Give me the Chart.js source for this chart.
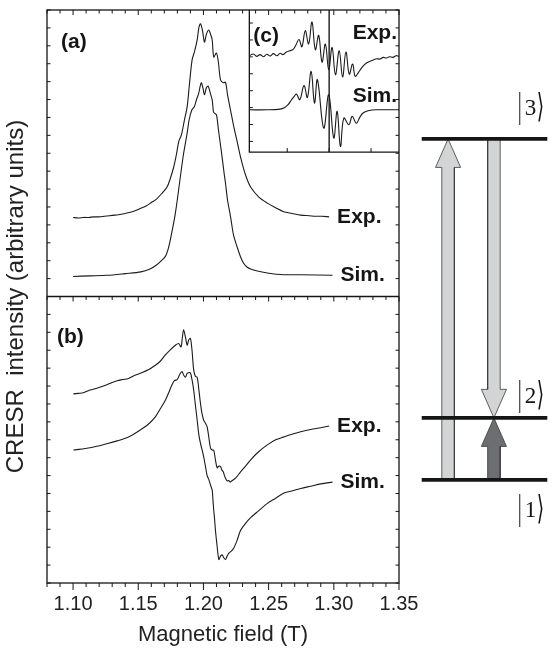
<!DOCTYPE html>
<html><head><meta charset="utf-8">
<script src="https://cdn.jsdelivr.net/npm/chart.js@4.4.1/dist/chart.umd.min.js"></script>
<style>
html,body{margin:0;padding:0;background:#fff;}
#wrap{position:relative;width:554px;height:648px;overflow:hidden;background:#fff;}
#main{position:absolute;left:0;top:0;}
#levels{position:absolute;left:400px;top:80px;}
</style></head><body>
<div id="wrap"><canvas id="main" width="554" height="648"></canvas><canvas id="levels" width="154" height="460"></canvas></div>
<script>
// ---------------- data ----------------
// field axis (T)
const xMajorTicks = [1.10, 1.15, 1.20, 1.25, 1.30, 1.35];
// panel (a): absorption-like CRESR signal (arbitrary units, upper half of the frame)
const expA = [[1.100,6.38],[1.104,6.37],[1.108,6.38],[1.112,6.38],[1.116,6.39],[1.120,6.39],[1.124,6.40],[1.128,6.41],[1.132,6.42],[1.136,6.43],[1.140,6.45],[1.144,6.47],[1.148,6.50],[1.152,6.54],[1.156,6.58],[1.160,6.64],[1.164,6.70],[1.1685,6.81],[1.1721,6.91],[1.1746,7.06],[1.1772,7.26],[1.1792,7.47],[1.1810,7.70],[1.1831,7.82],[1.1854,8.08],[1.1875,8.31],[1.1892,8.69],[1.1913,9.13],[1.1931,9.27],[1.1952,9.48],[1.1965,9.69],[1.1977,9.76],[1.1992,9.65],[1.2008,9.44],[1.2023,9.58],[1.2041,9.65],[1.2054,9.58],[1.2067,9.48],[1.2079,9.18],[1.2100,9.25],[1.2115,9.08],[1.2131,8.78],[1.2152,8.73],[1.2169,8.74],[1.2185,8.52],[1.2208,8.25],[1.2233,7.96],[1.2259,7.70],[1.2285,7.43],[1.2323,7.12],[1.2362,6.91],[1.2423,6.74],[1.2490,6.63],[1.2554,6.55],[1.2615,6.48],[1.2680,6.45],[1.2746,6.42],[1.2810,6.41],[1.2862,6.40],[1.2910,6.40],[1.2964,6.39]];
const simA = [[1.100,5.35],[1.113,5.36],[1.126,5.37],[1.140,5.40],[1.152,5.43],[1.159,5.48],[1.164,5.55],[1.168,5.63],[1.1708,5.70],[1.1727,5.81],[1.1746,5.99],[1.1785,6.46],[1.1823,7.09],[1.1846,7.47],[1.1875,7.85],[1.189,8.08],[1.191,8.25],[1.193,8.31],[1.1946,8.43],[1.1964,8.55],[1.1977,8.69],[1.1985,8.73],[1.1996,8.64],[1.2008,8.52],[1.2022,8.64],[1.2036,8.67],[1.2050,8.57],[1.2067,8.43],[1.2077,8.22],[1.2085,8.20],[1.2100,8.17],[1.2115,7.91],[1.2131,7.64],[1.2146,7.38],[1.2158,7.16],[1.2169,6.98],[1.2185,6.68],[1.2208,6.39],[1.2231,6.07],[1.2259,5.86],[1.2285,5.69],[1.2308,5.58],[1.2336,5.51],[1.2362,5.48],[1.2423,5.44],[1.2490,5.41],[1.2615,5.38],[1.2746,5.38],[1.2990,5.37]];
// panel (b): derivative-like CRESR signal (lower half of the frame)
const expB = [[1.1002,3.30],[1.1040,3.31],[1.1079,3.32],[1.1120,3.36],[1.1169,3.39],[1.1210,3.42],[1.1259,3.46],[1.1300,3.50],[1.1338,3.53],[1.1380,3.55],[1.1425,3.57],[1.1470,3.62],[1.1515,3.66],[1.1577,3.72],[1.1631,3.80],[1.1669,3.87],[1.1708,3.98],[1.1746,4.07],[1.1785,4.15],[1.1810,4.18],[1.1828,4.12],[1.1838,4.28],[1.1848,4.42],[1.1862,4.29],[1.1875,4.15],[1.1887,4.24],[1.1900,4.27],[1.1912,4.07],[1.1925,3.72],[1.1938,3.61],[1.1952,3.59],[1.1965,3.37],[1.1977,3.14],[1.1988,2.97],[1.2002,2.84],[1.2015,2.79],[1.2028,2.73],[1.2042,2.53],[1.2054,2.36],[1.2067,2.32],[1.2079,2.32],[1.2092,2.15],[1.2105,2.01],[1.2118,2.04],[1.2131,2.03],[1.2142,1.97],[1.2152,1.94],[1.2162,1.87],[1.2169,1.83],[1.2182,1.78],[1.2195,1.79],[1.2204,1.76],[1.2221,1.79],[1.2246,1.83],[1.2285,1.94],[1.2323,2.04],[1.2362,2.15],[1.2423,2.29],[1.2490,2.41],[1.2554,2.50],[1.2618,2.55],[1.2685,2.60],[1.2746,2.64],[1.2823,2.68],[1.2900,2.71],[1.2964,2.74]];
const simB = [[1.1002,2.32],[1.1131,2.36],[1.1259,2.43],[1.1338,2.48],[1.1425,2.55],[1.1515,2.67],[1.1577,2.77],[1.1631,2.90],[1.1669,3.04],[1.1708,3.19],[1.1735,3.33],[1.1759,3.46],[1.1777,3.53],[1.1798,3.55],[1.1812,3.61],[1.1823,3.66],[1.1836,3.69],[1.1848,3.63],[1.1862,3.59],[1.1875,3.66],[1.1887,3.67],[1.1900,3.67],[1.1913,3.54],[1.1925,3.37],[1.1938,3.11],[1.1952,2.84],[1.1965,2.58],[1.1977,2.44],[1.1990,2.32],[1.2002,2.20],[1.2015,2.04],[1.2028,1.88],[1.2042,1.80],[1.2054,1.71],[1.2067,1.62],[1.2073,1.45],[1.2079,1.27],[1.2086,1.10],[1.2092,0.92],[1.2104,0.66],[1.2118,0.41],[1.2131,0.47],[1.2144,0.49],[1.2156,0.44],[1.2169,0.41],[1.2182,0.47],[1.2195,0.52],[1.2215,0.56],[1.2233,0.61],[1.2259,0.75],[1.2285,0.92],[1.2323,1.04],[1.2362,1.14],[1.2423,1.26],[1.2490,1.39],[1.2554,1.48],[1.2618,1.57],[1.2685,1.61],[1.2746,1.65],[1.2823,1.69],[1.2900,1.73],[1.2990,1.76]];
// inset (c): zoom on the hyperfine structure (inset units)
const expC = [[-1.905,5.07],[-1.81,5.17],[-1.73,5.03],[-1.65,5.13],[-1.57,5.01],[-1.49,5.15],[-1.41,5.05],[-1.33,5.19],[-1.25,5.07],[-1.17,5.21],[-1.10,5.13],[-1.02,5.29],[-0.94,5.36],[-0.86,5.44],[-0.79,5.72],[-0.72,6.02],[-0.65,5.60],[-0.57,6.55],[-0.49,5.76],[-0.41,7.06],[-0.33,5.42],[-0.25,6.27],[-0.17,4.69],[-0.09,5.76],[-0.01,4.24],[0.07,5.56],[0.15,3.94],[0.24,5.36],[0.32,3.81],[0.40,5.29],[0.48,3.98],[0.56,4.58],[0.62,3.85],[0.69,4.04],[0.77,4.34],[0.89,4.64],[1.01,4.77],[1.13,4.89],[1.21,4.87],[1.29,4.97],[1.37,4.93],[1.44,5.01],[1.52,4.97],[1.60,5.07],[1.667,5.03]];
const simC = [[-1.905,1.87],[-1.49,1.87],[-1.17,1.91],[-1.06,2.01],[-0.98,2.17],[-0.90,2.45],[-0.83,2.68],[-0.78,2.80],[-0.70,2.47],[-0.60,3.31],[-0.52,2.60],[-0.43,4.14],[-0.35,2.27],[-0.28,3.65],[-0.13,0.79],[-0.01,2.76],[0.11,0.20],[0.19,1.78],[0.27,-0.30],[0.35,1.38],[0.47,0.99],[0.55,1.48],[0.65,1.08],[0.73,1.42],[0.81,1.68],[0.93,1.81],[1.13,1.87],[1.667,1.87]];
const insetMarker = [0];
const insetXTicks = [-1, 0, 1];
const insetYTicks = [0, 1, 2, 3, 4, 5, 6, 7];
// energy-level scheme
const levelEnergy = [0, 1, 5.5];       // |1>, |2>, |3>
const levelKets = ['1', '2', '3'];
const transFrom = [1, 3, 1];
const transTo   = [3, 2, 2];

// ---------------- layout / style ----------------
const FONT = '"Liberation Sans", Arial, Helvetica, sans-serif';
const INK = '#151515';
const X_MIN = 1.08, X_MAX = 1.35, X_MINOR = 0.01;
const Y_MIN = 0, Y_MAX = 10, PANEL_SPLIT = 5, Y_TICK = 0.3125;
const insetX = [-1.905, 1.667], insetY = [-0.63, 7.77];
const insetBox = {x0: 1.2352, x1: 1.35, y0: 7.52, y1: 10};
const kx = (insetX[1] - insetX[0]) / (insetBox.x1 - insetBox.x0);
const ky = (insetY[1] - insetY[0]) / (insetBox.y1 - insetBox.y0);
const x2min = insetX[0] - (insetBox.x0 - X_MIN) * kx;
const x2max = insetX[1] + (X_MAX - insetBox.x1) * kx;
const y2min = insetY[0] - (insetBox.y0 - Y_MIN) * ky;
const y2max = insetY[1] + (Y_MAX - insetBox.y1) * ky;

const curve = (data, xid, yid, tension) => ({
  data: data.map(([x, y]) => ({x, y})), xAxisID: xid, yAxisID: yid,
  borderColor: '#1b1b1b', borderWidth: 1.1, pointRadius: 0, fill: false,
  tension: tension
});

const framePlugin = {
  id: 'framePlugin',
  afterDatasetsDraw(chart) {
    const {ctx, chartArea: a, scales: {x, y, x2, y2}} = chart;
    ctx.save();
    ctx.strokeStyle = INK;
    const seg = (x1, y1, x3, y3) => { ctx.beginPath(); ctx.moveTo(x1, y1); ctx.lineTo(x3, y3); ctx.stroke(); };
    ctx.lineWidth = 1.3;
    ctx.strokeRect(a.left, a.top, a.right - a.left, a.bottom - a.top);
    const yd = y.getPixelForValue(PANEL_SPLIT);
    seg(a.left, yd, a.right, yd);
    ctx.lineWidth = 1;
    const nx = Math.round((X_MAX - X_MIN) / X_MINOR);
    for (let i = 0; i <= nx; i++) {
      const v = X_MIN + i * X_MINOR;
      const major = Math.abs(v * 20 - Math.round(v * 20)) < 1e-6;
      const p = x.getPixelForValue(v);
      seg(p, a.top, p, a.top + (major ? 5 : 3.5));
      seg(p, yd, p, yd + (major ? 5 : 3.5));
      seg(p, a.bottom, p, a.bottom + (major ? 7 : 4));
    }
    const ny = Math.round((Y_MAX - Y_MIN) / Y_TICK);
    for (let i = 0; i <= ny; i++) {
      const p = y.getPixelForValue(Y_MIN + i * Y_TICK);
      seg(a.left, p, a.left + 3.5, p);
      seg(a.right, p, a.right - 3.5, p);
    }
    // inset frame
    const ix0 = x2.getPixelForValue(insetX[0]);
    const iy0 = y2.getPixelForValue(insetY[0]);
    ctx.lineWidth = 1.3;
    ctx.beginPath(); ctx.moveTo(ix0, a.top); ctx.lineTo(ix0, iy0); ctx.lineTo(a.right, iy0); ctx.stroke();
    ctx.lineWidth = 1;
    insetXTicks.forEach(v => { const p = x2.getPixelForValue(v); seg(p, iy0, p, iy0 - 4); });
    insetYTicks.forEach(v => { const p = y2.getPixelForValue(v); seg(ix0, p, ix0 + 3.5, p); });
    // labels
    ctx.fillStyle = INK;
    ctx.font = `bold 21px ${FONT}`;
    ctx.textBaseline = 'middle';
    ctx.textAlign = 'left';
    ctx.fillText('(a)', a.left + 14, a.top + 32);
    ctx.fillText('(b)', a.left + 10, yd + 41);
    ctx.fillText('(c)', ix0 + 4, a.top + 26);
    [[expA, 'Exp.'], [simA, 'Sim.'], [expB, 'Exp.'], [simB, 'Sim.']].forEach(([d, t]) => {
      const last = d[d.length - 1];
      ctx.fillText(t, x.getPixelForValue(last[0]) + 8, y.getPixelForValue(last[1]));
    });
    ctx.textAlign = 'right';
    ctx.fillText('Exp.', a.right - 2, y2.getPixelForValue(6.41));
    ctx.fillText('Sim.', a.right - 2, y2.getPixelForValue(2.68));
    ctx.restore();
  }
};

new Chart(document.getElementById('main'), {
  type: 'line',
  data: {
    datasets: [
      curve(expA, 'x', 'y', 0.3), curve(simA, 'x', 'y', 0.3), curve(expB, 'x', 'y', 0.3), curve(simB, 'x', 'y', 0.3),
      curve(expC, 'x2', 'y2', 0.4), curve(simC, 'x2', 'y2', 0.4),
      Object.assign(curve([[insetMarker[0], insetY[0]], [insetMarker[0], insetY[1]]], 'x2', 'y2', 0), {borderWidth: 1.4})
    ]
  },
  options: {
    responsive: false, animation: false, devicePixelRatio: 1,
    layout: {padding: {top: 10, right: 155, left: 0, bottom: 0}},
    plugins: {legend: {display: false}, tooltip: {enabled: false}},
    scales: {
      x: {
        type: 'linear', min: X_MIN, max: X_MAX, position: 'bottom',
        grid: {display: false, drawTicks: false}, border: {display: false},
        afterBuildTicks: s => { s.ticks = xMajorTicks.map(v => ({value: v})); },
        ticks: {autoSkip: false, maxRotation: 0, padding: 9, color: '#222',
                font: {family: FONT, size: 20}, callback: v => Number(v).toFixed(2)},
        title: {display: true, text: 'Magnetic field (T)', color: '#222',
                font: {family: FONT, size: 22}, padding: {top: 0, bottom: 0}},
        afterFit: s => { s.height = 65; }
      },
      y: {
        type: 'linear', min: Y_MIN, max: Y_MAX, position: 'left',
        grid: {display: false, drawTicks: false}, border: {display: false},
        ticks: {display: false},
        title: {display: true, text: 'CRESR  intensity (arbitrary units)', color: '#222',
                font: {family: FONT, size: 24}, padding: {top: 2, bottom: 0}},
        afterFit: s => { s.width = 47; }
      },
      x2: {type: 'linear', min: x2min, max: x2max, display: false},
      y2: {type: 'linear', min: y2min, max: y2max, display: false}
    }
  },
  plugins: [framePlugin]
});

// ---------------- energy level scheme ----------------
const LEVEL_X = [0, 2];
const transX = [0.42, 1.15, 1.15];
const transFill = ['#d2d4d5', '#d2d4d5', '#6d6e72'];
const SHAFT_W = 0.1, HEAD_W = 0.2, HEAD_L = 0.46;
const KET_X = 1.53;
const ketOffset = [30, -22, -31];

function arrowPoly(cx, e0, e1) {
  const dir = Math.sign(e1 - e0), base = e1 - dir * HEAD_L;
  return [[cx - SHAFT_W, e0], [cx - SHAFT_W, base], [cx - HEAD_W, base], [cx, e1],
          [cx + HEAD_W, base], [cx + SHAFT_W, base], [cx + SHAFT_W, e0], [cx - SHAFT_W, e0]]
          .map(([x, y]) => ({x, y}));
}

const levelSets = levelEnergy.map(E => ({
  data: LEVEL_X.map(x => ({x, y: E})), borderColor: INK, borderWidth: 3.6,
  pointRadius: 0, fill: false, order: 0
}));
const arrowSets = transFrom.map((f, i) => ({
  data: arrowPoly(transX[i], levelEnergy[f - 1], levelEnergy[transTo[i] - 1]),
  borderColor: '#3a3a3a', borderWidth: 0.8, backgroundColor: transFill[i],
  fill: 'shape', pointRadius: 0, tension: 0, order: 1
}));

const ketPlugin = {
  id: 'ketPlugin',
  afterDraw(chart) {
    const {ctx, scales: {x, y}} = chart;
    ctx.save();
    ctx.fillStyle = INK;
    ctx.textBaseline = 'middle';
    ctx.textAlign = 'left';
    const tall = (ch, font, px, py) => {
      ctx.save(); ctx.translate(px, py); ctx.scale(1, 1.75);
      ctx.font = font; ctx.fillText(ch, 0, 0); ctx.restore();
    };
    levelEnergy.forEach((E, i) => {
      const bx = x.getPixelForValue(KET_X);
      const cy = y.getPixelForValue(E) + ketOffset[i];
      tall('|', '20px "Liberation Serif"', bx, cy);
      ctx.font = '23px "Liberation Serif"';
      ctx.fillText(levelKets[i], bx + 7, cy + 1);
      tall('\u27E9', '19px "DejaVu Sans"', bx + 19, cy);
    });
    ctx.restore();
  }
};

new Chart(document.getElementById('levels'), {
  type: 'line',
  data: {datasets: [...levelSets, ...arrowSets]},
  options: {
    responsive: false, animation: false, devicePixelRatio: 1,
    layout: {padding: 0},
    plugins: {legend: {display: false}, tooltip: {enabled: false}},
    scales: {
      x: {type: 'linear', min: -0.346, max: 2.107, display: false},
      y: {type: 'linear', min: -0.97, max: 6.45, display: false}
    }
  },
  plugins: [ketPlugin]
});
</script></body></html>
